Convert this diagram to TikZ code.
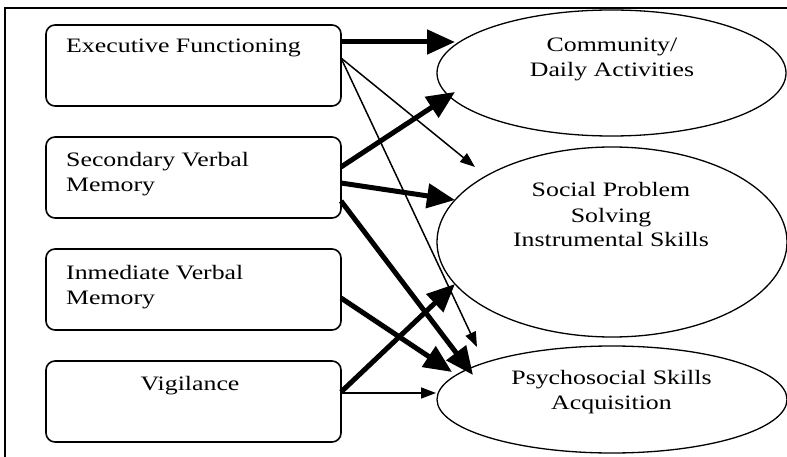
\documentclass[tikz,border=0pt]{standalone}
\usepackage{fontspec}
\setmainfont{Liberation Serif}
\usepackage{graphicx}
\usetikzlibrary{arrows.meta,calc,shapes.geometric}
\newcommand{\wl}[1]{\scalebox{1.26}[1]{\begin{tabular}[t]{@{}l@{}}#1\end{tabular}}}
\newcommand{\wc}[1]{\scalebox{1.26}[1]{\begin{tabular}[t]{@{}c@{}}#1\end{tabular}}}
\begin{document}
\begin{tikzpicture}[x=1pt,y=-1pt,
  box/.style={draw,line width=1.6pt,rounded corners=9pt,minimum width=295pt,minimum height=81pt,inner sep=0pt,outer sep=0pt},
  oval/.style={draw,ellipse,line width=1.3pt,inner sep=0pt,outer sep=0pt},
  txt/.style={inner sep=0pt,font=\fontsize{20.5}{25}\selectfont},
  thick arr/.style={line width=5pt,-{Triangle[length=28pt,width=24pt]}},
  thin arr/.style={line width=1.5pt,-{Triangle[length=15pt,width=11pt]}}]
\useasboundingbox (0,0) rectangle (787,457);
\draw[line width=1.2pt] (5,457) -- (5,8) -- (787,8);
% boxes
\node[box] (ef)  at (193.5,65.5)  {};
\node[box] (svm) at (193.5,177.5) {};
\node[box] (ivm) at (193.5,289.5) {};
\node[box] (vig) at (193.5,401.5) {};
% ellipses
\node[oval,minimum width=349pt,minimum height=126pt] (cda)  at (611.5,73)  {};
\node[oval,minimum width=350pt,minimum height=190pt] (spis) at (612,242)   {};
\node[oval,minimum width=350pt,minimum height=107pt] (psa)  at (612,399.5) {};
% texts
\node[txt,anchor=base west] (eft)  at (66,53)  {\wl{Executive Functioning}};
\node[txt,anchor=base west] (svmt) at (66,167) {\wl{Secondary Verbal\\Memory}};
\node[txt,anchor=base west] (ivmt) at (66,279) {\wl{Inmediate Verbal\\Memory}};
\node[txt,anchor=base] (vigt) at (190,390) {\wc{Vigilance}};
\node[txt,anchor=base] (cdat) at (612,52)  {\wc{Community/\\Daily Activities}};
\node[txt,anchor=base] (spist) at (611,197) {\wc{Social Problem\\Solving\\Instrumental Skills}};
\node[txt,anchor=base] (psat) at (611.5,384) {\wc{Psychosocial Skills\\Acquisition}};
% connectors
\draw[thick arr] ($(ef.east)+(0,-23.5)$) -- ($(cda.center)+(-156.5,-31)$);
\draw[thin arr]  ($(ef.east)+(0,-7.5)$) -- ($(spis.center)+(-137,-75)$);
\draw[thin arr]  ($(ef.east)+(0,-7.5)$) -- ($(psa.center)+(-135,-52.5)$);
\draw[thick arr] ($(svm.east)+(0,-10.5)$) -- ($(cda.center)+(-156.5,19)$);
\draw[thick arr] ($(svm.east)+(0,5.5)$) -- ($(spis.center)+(-157,-42)$);
\draw[thick arr] ($(svm.east)+(0,23.5)$) -- ($(psa.center)+(-139,-24.5)$);
\draw[thick arr] ($(ivm.east)+(0,8.5)$) -- ($(psa.center)+(-160,-27.5)$);
\draw[thick arr] ($(vig.east)+(0,-9.5)$) -- ($(spis.center)+(-157,42)$);
\draw[thin arr]  ($(vig.east)+(0,-8.5)$) -- ($(psa.center)+(-176,-6.5)$);
\end{tikzpicture}
\end{document}
